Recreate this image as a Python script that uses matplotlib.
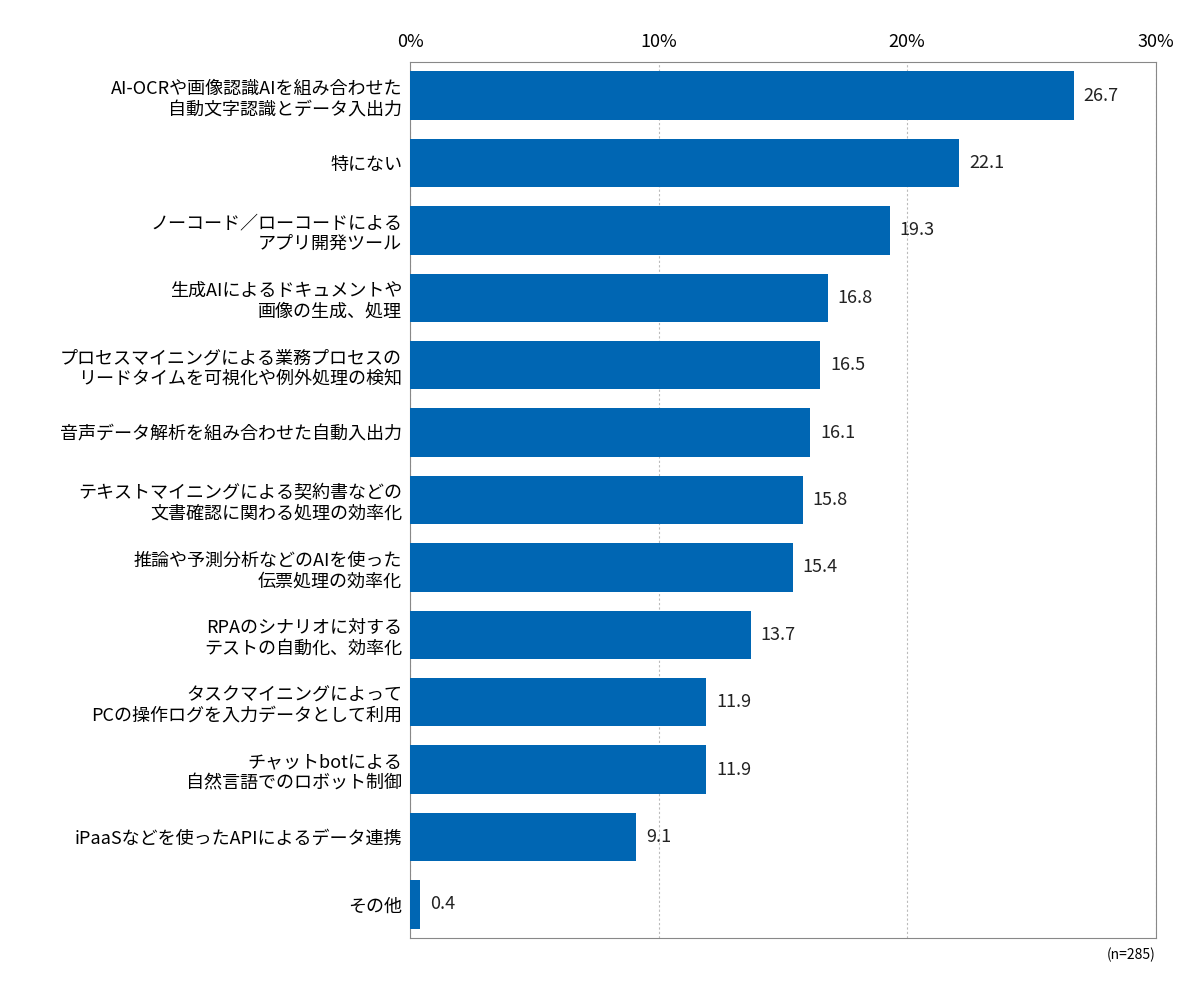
import matplotlib
matplotlib.use("Agg")
import matplotlib.pyplot as plt

plt.rcParams['font.family'] = ['Noto Sans CJK JP', 'DejaVu Sans']

labels = [
    "AI-OCRや画像認識AIを組み合わせた\n自動文字認識とデータ入出力",
    "特にない",
    "ノーコード／ローコードによる\nアプリ開発ツール",
    "生成AIによるドキュメントや\n画像の生成、処理",
    "プロセスマイニングによる業務プロセスの\nリードタイムを可視化や例外処理の検知",
    "音声データ解析を組み合わせた自動入出力",
    "テキストマイニングによる契約書などの\n文書確認に関わる処理の効率化",
    "推論や予測分析などのAIを使った\n伝票処理の効率化",
    "RPAのシナリオに対する\nテストの自動化、効率化",
    "タスクマイニングによって\nPCの操作ログを入力データとして利用",
    "チャットbotによる\n自然言語でのロボット制御",
    "iPaaSなどを使ったAPIによるデータ連携",
    "その他",
]
values = [26.7, 22.1, 19.3, 16.8, 16.5, 16.1, 15.8, 15.4, 13.7, 11.9, 11.9, 9.1, 0.4]
ticks = [0, 10, 20, 30]

fig = plt.figure(figsize=(12, 10), dpi=100)
ax = fig.add_axes([0.342, 0.062, 0.621, 0.876])

y = list(range(len(values)))
ax.barh(y, values, height=0.72, color="#0066b3", zorder=3)
for yi, v in zip(y, values):
    ax.text(v + 0.4, yi, f"{v:.1f}", va="center", ha="left", fontsize=13, color="#222222")

ax.set_ylim(len(values) - 0.5, -0.5)
ax.set_xlim(0, 30)
ax.set_yticks(y)
ax.set_yticklabels(labels, fontsize=13, linespacing=1.2)
ax.set_xticks(ticks)
ax.set_xticklabels([f"{t}%" for t in ticks], fontsize=13)
ax.xaxis.tick_top()
ax.tick_params(length=0, pad=6)
ax.tick_params(axis='x', pad=8)
ax.grid(axis='x', linestyle=(0, (2, 2)), color="#bbbbbb", linewidth=0.8, zorder=0)
for s in ax.spines.values():
    s.set_color("#888888")
    s.set_linewidth(0.8)

fig.text(0.963, 0.045, "(n=285)", ha="right", va="center", fontsize=10)
fig.savefig("out.png")
